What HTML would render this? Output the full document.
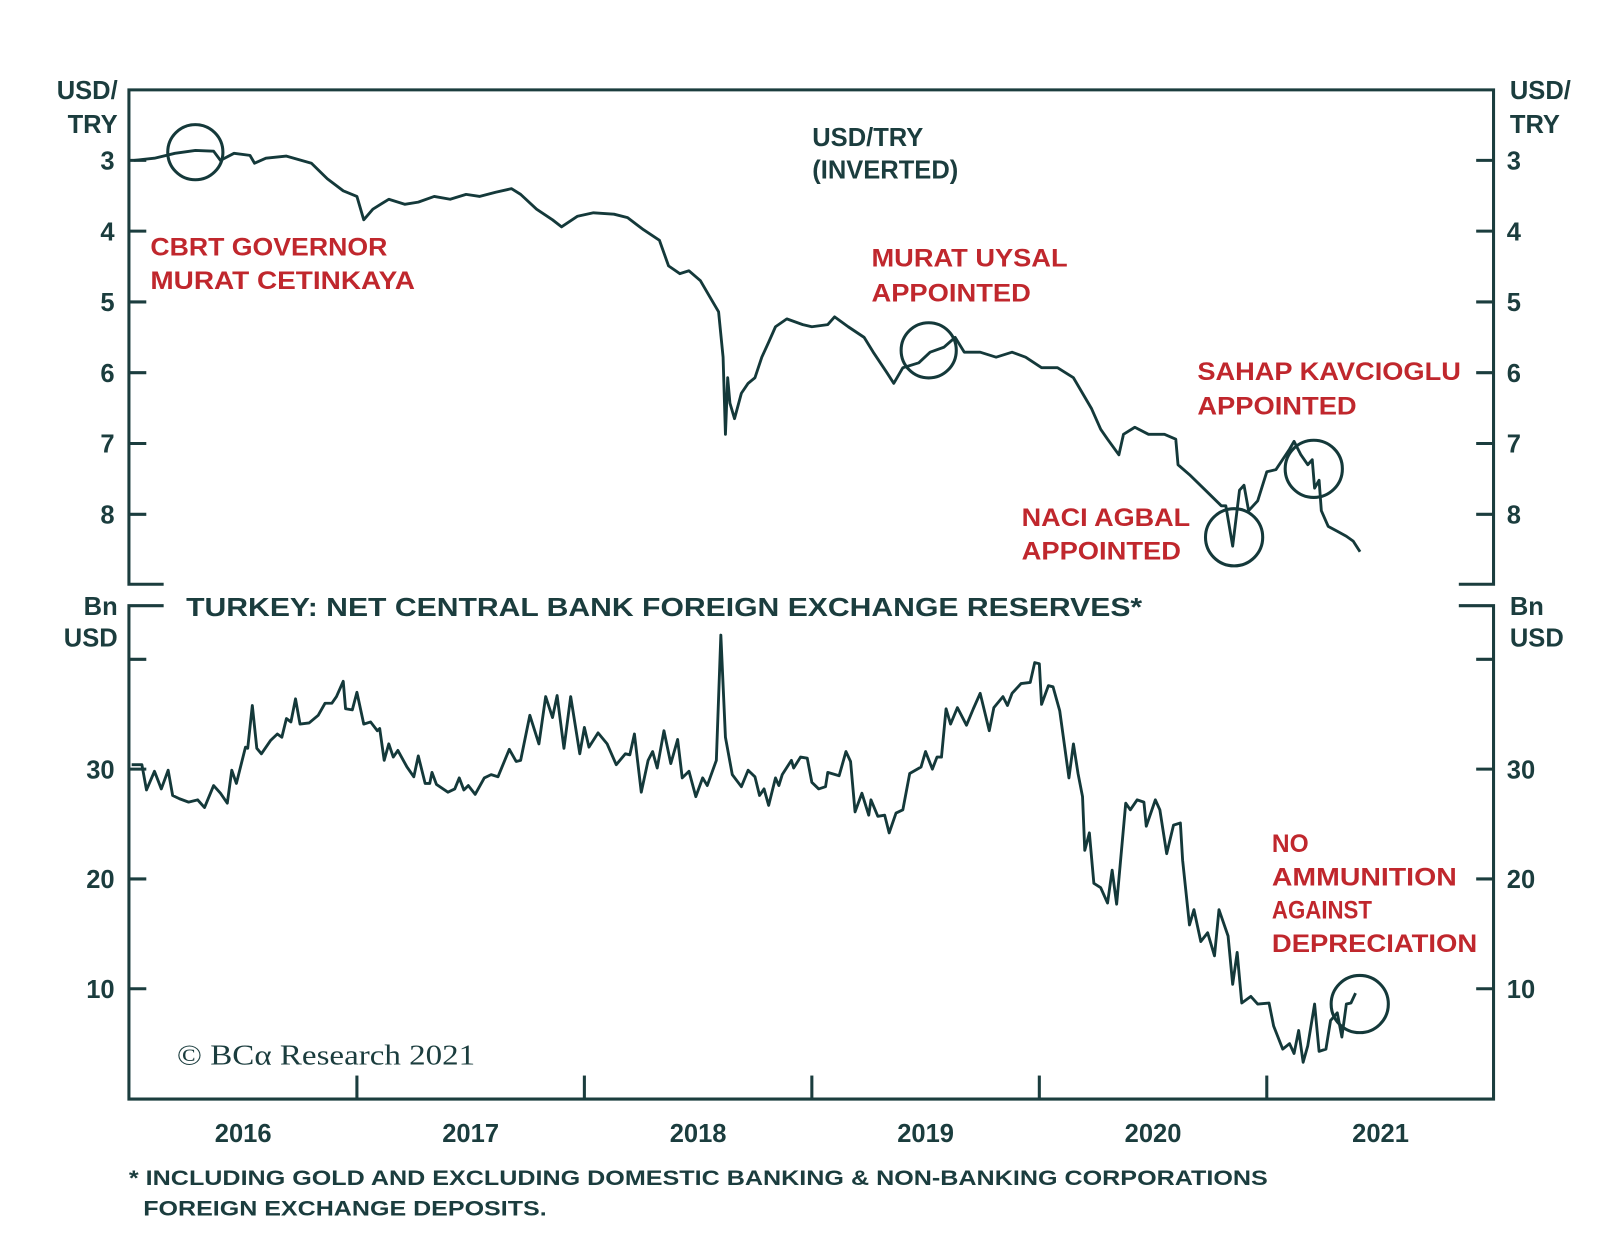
<!DOCTYPE html>
<html><head><meta charset="utf-8"><style>
html,body{margin:0;padding:0;background:#fff;}
svg{display:block;}
text{font-family:"Liberation Sans",Arial,sans-serif;font-weight:bold;}
</style></head><body>
<svg id="chart" width="1600" height="1240" viewBox="0 0 1566 1214" xmlns="http://www.w3.org/2000/svg">
<g id="frame" fill="none" stroke="#1b3d3e" stroke-width="3">
  <polyline points="160,572 126,572 126,88 1462,88 1462,572 1428,572"/>
  <polyline points="160,593 126,593 126,1076 1462,1076 1462,593 1428,593"/>
</g>
<g id="ticks" stroke="#1b3d3e" stroke-width="3"></g>
<g id="labels" fill="#1b3d3e">
  <text x="115" y="97" font-size="25" text-anchor="end">USD/</text>
  <text x="115" y="130" font-size="25" text-anchor="end">TRY</text>
  <text x="1478" y="97" font-size="25">USD/</text>
  <text x="1478" y="130" font-size="25">TRY</text>
  <text x="115" y="602" font-size="25" text-anchor="end">Bn</text>
  <text x="115" y="633" font-size="25" text-anchor="end">USD</text>
  <text x="1478" y="602" font-size="25">Bn</text>
  <text x="1478" y="633" font-size="25">USD</text>
  <text x="795" y="143" font-size="25">USD/TRY</text>
  <text x="795" y="175" font-size="25">(INVERTED)</text>
  <text x="182" y="603" font-size="25" textLength="936" lengthAdjust="spacingAndGlyphs">TURKEY: NET CENTRAL BANK FOREIGN EXCHANGE RESERVES*</text>
  <text x="126" y="1160" font-size="21" textLength="1115" lengthAdjust="spacingAndGlyphs">* INCLUDING GOLD AND EXCLUDING DOMESTIC BANKING &amp; NON-BANKING CORPORATIONS</text>
  <text x="140" y="1190" font-size="21" textLength="395" lengthAdjust="spacingAndGlyphs">FOREIGN EXCHANGE DEPOSITS.</text>
  <text x="173" y="1042" font-size="28" style="font-family:'Liberation Serif',serif;font-weight:normal" textLength="292" lengthAdjust="spacingAndGlyphs">© BCα Research 2021</text>
</g>
<g id="annotations" fill="#c0272d" font-size="24">
  <text x="147" y="250" textLength="232" lengthAdjust="spacingAndGlyphs">CBRT GOVERNOR</text>
  <text x="147" y="283" textLength="259" lengthAdjust="spacingAndGlyphs">MURAT CETINKAYA</text>
  <text x="853" y="261" textLength="192" lengthAdjust="spacingAndGlyphs">MURAT UYSAL</text>
  <text x="853" y="295" textLength="156" lengthAdjust="spacingAndGlyphs">APPOINTED</text>
  <text x="1172" y="372" textLength="258" lengthAdjust="spacingAndGlyphs">SAHAP KAVCIOGLU</text>
  <text x="1172" y="406" textLength="156" lengthAdjust="spacingAndGlyphs">APPOINTED</text>
  <text x="1000" y="515" textLength="165" lengthAdjust="spacingAndGlyphs">NACI AGBAL</text>
  <text x="1000" y="548" textLength="156" lengthAdjust="spacingAndGlyphs">APPOINTED</text>
  <text x="1245" y="834">NO</text>
  <text x="1245" y="867" textLength="181" lengthAdjust="spacingAndGlyphs">AMMUNITION</text>
  <text x="1245" y="899" textLength="98" lengthAdjust="spacingAndGlyphs">AGAINST</text>
  <text x="1245" y="932" textLength="201" lengthAdjust="spacingAndGlyphs">DEPRECIATION</text>
</g>
<g id="series" fill="none" stroke="#14393a" stroke-width="2.8" stroke-linejoin="round"></g>
<g id="circles" fill="none" stroke="#14393a" stroke-width="3">
  <circle cx="191" cy="149" r="27"/>
  <circle cx="909" cy="343" r="27"/>
  <circle cx="1208" cy="526" r="28"/>
  <circle cx="1286" cy="459" r="28"/>
  <circle cx="1331" cy="983" r="28"/>
</g>
</svg>
<script>
const topTicks = [3,4,5,6,7,8];
const bottomTicks = [10,20,30,40];
const bottomTickLabels = ["10","20","30",""];
const yearLabels = ["2016","2017","2018","2019","2020","2021"];
const usdTryDates = [2016.02,2016.11,2016.20,2016.29,2016.37,2016.40,2016.46,2016.53,2016.55,2016.60,2016.69,2016.80,2016.87,2016.94,2017.00,2017.03,2017.07,2017.14,2017.21,2017.27,2017.34,2017.41,2017.48,2017.54,2017.61,2017.68,2017.72,2017.79,2017.86,2017.90,2017.97,2018.04,2018.13,2018.19,2018.26,2018.33,2018.37,2018.42,2018.46,2018.51,2018.55,2018.59,2018.61,2018.62,2018.63,2018.64,2018.66,2018.69,2018.72,2018.75,2018.78,2018.81,2018.84,2018.89,2018.96,2019.00,2019.07,2019.10,2019.16,2019.23,2019.27,2019.33,2019.36,2019.40,2019.47,2019.52,2019.58,2019.63,2019.67,2019.74,2019.81,2019.88,2019.94,2020.01,2020.08,2020.15,2020.19,2020.23,2020.27,2020.30,2020.35,2020.37,2020.42,2020.48,2020.55,2020.60,2020.61,2020.66,2020.73,2020.80,2020.82,2020.85,2020.88,2020.90,2020.92,2020.96,2021.00,2021.04,2021.10,2021.12,2021.15,2021.18,2021.20,2021.21,2021.23,2021.24,2021.27,2021.31,2021.35,2021.38,2021.41];
const usdTryValues = [3.00,2.97,2.90,2.86,2.87,3.00,2.90,2.93,3.04,2.97,2.94,3.04,3.26,3.43,3.51,3.84,3.69,3.55,3.62,3.59,3.51,3.55,3.48,3.51,3.45,3.40,3.48,3.69,3.84,3.94,3.79,3.74,3.76,3.81,3.98,4.13,4.49,4.60,4.56,4.70,4.92,5.14,5.78,6.87,6.07,6.43,6.65,6.29,6.15,6.07,5.78,5.57,5.35,5.24,5.32,5.35,5.32,5.21,5.35,5.50,5.71,6.00,6.15,5.93,5.86,5.71,5.64,5.50,5.71,5.71,5.78,5.71,5.78,5.93,5.93,6.07,6.29,6.51,6.80,6.94,7.16,6.87,6.77,6.87,6.87,6.94,7.30,7.44,7.66,7.88,7.88,8.45,7.66,7.59,7.95,7.81,7.40,7.37,7.08,6.97,7.16,7.30,7.23,7.63,7.52,7.95,8.17,8.24,8.31,8.38,8.53];
const reserveDates = [2016.01,2016.055,2016.075,2016.11,2016.14,2016.17,2016.19,2016.22,2016.26,2016.30,2016.33,2016.37,2016.40,2016.43,2016.45,2016.47,2016.51,2016.52,2016.54,2016.56,2016.58,2016.62,2016.65,2016.67,2016.69,2016.71,2016.73,2016.75,2016.79,2016.83,2016.86,2016.89,2016.91,2016.94,2016.95,2016.98,2017.00,2017.03,2017.06,2017.09,2017.10,2017.12,2017.14,2017.16,2017.18,2017.22,2017.25,2017.27,2017.30,2017.32,2017.33,2017.35,2017.40,2017.43,2017.45,2017.47,2017.49,2017.52,2017.56,2017.59,2017.62,2017.67,2017.70,2017.72,2017.76,2017.80,2017.83,2017.86,2017.88,2017.91,2017.94,2017.98,2018.00,2018.02,2018.06,2018.10,2018.14,2018.18,2018.20,2018.22,2018.25,2018.28,2018.30,2018.32,2018.35,2018.38,2018.41,2018.43,2018.46,2018.49,2018.52,2018.54,2018.58,2018.60,2018.62,2018.65,2018.69,2018.72,2018.75,2018.77,2018.79,2018.81,2018.84,2018.855,2018.87,2018.91,2018.92,2018.95,2018.98,2019.00,2019.03,2019.06,2019.07,2019.12,2019.15,2019.17,2019.19,2019.22,2019.25,2019.26,2019.29,2019.32,2019.34,2019.37,2019.40,2019.43,2019.48,2019.50,2019.53,2019.55,2019.57,2019.59,2019.61,2019.64,2019.68,2019.71,2019.74,2019.78,2019.80,2019.84,2019.86,2019.88,2019.92,2019.96,2019.98,2020.00,2020.01,2020.04,2020.06,2020.09,2020.13,2020.15,2020.17,2020.19,2020.20,2020.22,2020.24,2020.27,2020.30,2020.32,2020.34,2020.38,2020.40,2020.43,2020.46,2020.47,2020.51,2020.53,2020.56,2020.59,2020.62,2020.63,2020.66,2020.68,2020.71,2020.74,2020.77,2020.79,2020.83,2020.85,2020.87,2020.89,2020.93,2020.96,2021.01,2021.03,2021.07,2021.10,2021.12,2021.14,2021.16,2021.18,2021.21,2021.23,2021.26,2021.28,2021.31,2021.33,2021.35,2021.37,2021.39];
const reserveValues = [30.4,30.4,28.1,29.8,28.2,29.9,27.6,27.3,27.0,27.2,26.5,28.5,27.8,26.9,29.9,28.7,32.0,31.9,35.8,31.9,31.4,32.6,33.2,32.9,34.6,34.3,36.4,34.1,34.2,34.9,36.0,36.0,36.6,38.0,35.5,35.4,37.0,34.1,34.3,33.5,33.7,30.8,32.3,31.1,31.7,30.2,29.3,31.2,28.7,28.7,29.7,28.6,27.9,28.2,29.2,28.1,28.5,27.7,29.2,29.5,29.3,31.8,30.7,30.8,34.9,32.3,36.6,34.7,36.7,31.9,36.6,31.4,33.8,32.0,33.3,32.3,30.4,31.4,31.3,33.2,27.9,30.8,31.6,30.1,33.5,30.5,32.7,29.2,29.8,27.5,29.2,28.5,30.8,42.2,32.9,29.5,28.4,29.9,29.3,27.6,28.2,26.7,29.2,28.5,29.5,30.8,30.1,31.1,31.0,28.8,28.2,28.4,29.7,29.4,31.6,30.7,26.1,27.8,25.8,27.2,25.7,25.8,24.2,26.0,26.3,29.6,30.2,31.6,30.0,31.1,31.1,35.5,34.1,35.6,34.0,35.5,36.9,33.5,35.6,36.6,35.8,36.9,37.8,37.9,39.7,39.6,35.9,37.6,37.5,35.3,29.2,32.3,29.6,27.5,22.6,24.2,19.6,19.2,17.8,20.8,17.7,26.9,26.3,27.2,27.0,24.8,27.2,26.3,22.3,24.9,25.1,21.7,15.8,17.2,14.3,15.1,13.0,17.2,14.8,10.4,13.3,8.7,9.3,8.6,8.7,6.6,4.5,5.0,4.1,6.2,3.3,4.8,8.6,4.3,4.5,7.1,7.8,5.6,8.6,8.7,9.6];

const NS = "http://www.w3.org/2000/svg";
function xScale(yr){ return 126.5 + (yr - 2016) * 222.7; }
function yTop(v){ return 157 + (v - 3) * 69.3; }
function yBottom(v){ return 1075.5 - v * 10.75; }
const tickG = document.getElementById('ticks');
const labG = document.getElementById('labels');
function mkLine(x1,y1,x2,y2,name){
  const l = document.createElementNS(NS,'line');
  l.setAttribute('x1',x1); l.setAttribute('y1',y1); l.setAttribute('x2',x2); l.setAttribute('y2',y2);
  
  
  tickG.appendChild(l);
}
function mkText(x,y,str,anchor,name){
  const t = document.createElementNS(NS,'text');
  t.setAttribute('x',x); t.setAttribute('y',y); t.setAttribute('font-size','25');
  t.setAttribute('text-anchor',anchor);
  t.textContent = str;
  
  
  labG.appendChild(t);
}
topTicks.forEach(v=>{
  const y = yTop(v);
  mkLine(126,y,143,y,'top-left-tick');
  mkLine(1445,y,1462,y,'top-right-tick');
  mkText(112,y+9,String(v),'end','top-left-tick-label');
  mkText(1475,y+9,String(v),'start','top-right-tick-label');
});
bottomTicks.forEach((v,i)=>{
  const y = yBottom(v);
  mkLine(126,y,143,y,'bottom-left-tick');
  mkLine(1445,y,1462,y,'bottom-right-tick');
  if (bottomTickLabels[i]) {
    mkText(112,y+9,bottomTickLabels[i],'end','bottom-left-tick-label');
    mkText(1475,y+9,bottomTickLabels[i],'start','bottom-right-tick-label');
  }
});
yearLabels.forEach((lab,i)=>{
  const yr = 2016 + i;
  if (i>0) mkLine(xScale(yr),1076,xScale(yr),1053,'x-axis-tick');
  mkText(xScale(yr+0.5),1118,lab,'middle','x-axis-year-label');
});
const sG = document.getElementById('series');
function mkPath(dates, vals, yf, name){
  const p = document.createElementNS(NS,'path');
  let d = '';
  dates.forEach((dt,i)=>{ d += (i? 'L':'M') + xScale(dt).toFixed(1) + ',' + yf(vals[i]).toFixed(1); });
  p.setAttribute('d', d);
  
  
  sG.appendChild(p);
}
mkPath(usdTryDates, usdTryValues, yTop, 'usdtry-line');
mkPath(reserveDates, reserveValues, yBottom, 'reserves-line');
</script>
</body></html>
